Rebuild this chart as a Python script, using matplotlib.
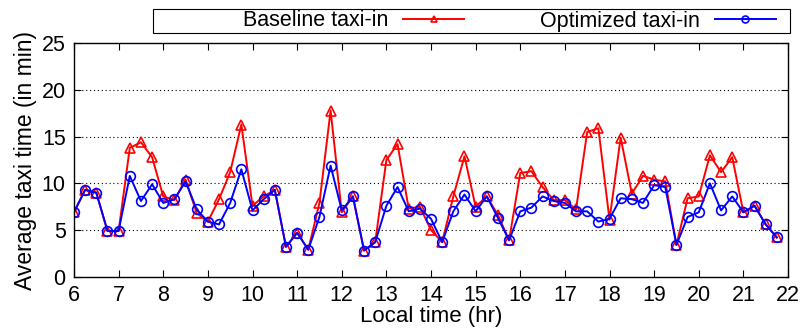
import numpy as np
import matplotlib
matplotlib.use("Agg")
import matplotlib.pyplot as plt
from matplotlib.ticker import MultipleLocator
from matplotlib.patches import Rectangle

plt.rcParams['font.family'] = ['Liberation Sans', 'DejaVu Sans']

# Local time of day (hours), sampled every 15 minutes
local_time = [6 + 0.25 * i for i in range(64)]

baseline_taxi_in = [
    6.9, 9.3, 9.0, 4.9, 4.9, 13.8, 14.4, 12.8, 8.6, 8.2,
    10.4, 6.8, 5.9, 8.3, 11.2, 16.3, 7.6, 8.6, 9.3, 3.2,
    4.7, 2.9, 7.9, 17.8, 6.9, 8.6, 2.8, 3.7, 12.5, 14.2,
    7.3, 7.5, 5.0, 3.7, 8.6, 12.9, 7.5, 8.6, 6.6, 3.9,
    11.1, 11.3, 9.6, 8.2, 8.2, 7.2, 15.5, 15.9, 6.1, 14.9,
    8.9, 10.8, 10.4, 10.2, 3.4, 8.4, 8.6, 13.0, 11.2, 12.8,
    6.9, 7.6, 5.6, 4.2,
]

optimized_taxi_in = [
    6.9, 9.3, 9.0, 4.9, 4.9, 10.8, 8.1, 9.9, 7.9, 8.3,
    10.2, 7.2, 5.9, 5.6, 7.9, 11.5, 7.1, 8.3, 9.3, 3.2,
    4.7, 2.9, 6.4, 11.9, 7.1, 8.6, 2.8, 3.7, 7.6, 9.6,
    7.0, 7.3, 6.2, 3.7, 7.0, 8.8, 7.0, 8.6, 6.3, 3.9,
    7.0, 7.4, 8.6, 8.1, 7.9, 7.0, 7.0, 5.9, 6.2, 8.4,
    8.3, 7.9, 9.8, 9.6, 3.4, 6.4, 6.9, 10.0, 7.1, 8.6,
    6.9, 7.6, 5.6, 4.2,
]

W, H = 806, 329
fig = plt.figure(figsize=(W / 100, H / 100), dpi=100)
ax = fig.add_axes([74 / W, 1 - 276.7 / H, 714 / W, 233.4 / H])

line_base, = ax.plot(local_time, baseline_taxi_in, color='red', lw=1.4,
                     marker='^', markersize=7, markerfacecolor='none',
                     markeredgecolor='red', markeredgewidth=1.2,
                     label='Baseline taxi-in')
line_opt, = ax.plot(local_time, optimized_taxi_in, color='blue', lw=1.4,
                    marker='o', markersize=7, markerfacecolor='none',
                    markeredgecolor='blue', markeredgewidth=1.2,
                    label='Optimized taxi-in')

ax.set_xlim(6, 22)
ax.set_ylim(0, 25)
ax.xaxis.set_major_locator(MultipleLocator(1))
ax.yaxis.set_major_locator(MultipleLocator(5))
ax.tick_params(direction='in', top=True, right=True, length=5,
               labelsize=15.5, width=0.8, pad=6)
for s in ax.spines.values():
    s.set_linewidth(1.0)

for yv in [5, 10, 15, 20]:
    ax.axhline(yv, color='black', lw=0.8, ls=(0, (1, 2.5)), zorder=0)

ax.set_xlabel('Local time (hr)', fontsize=16, labelpad=0)
ax.set_ylabel('Average taxi time (in min)', fontsize=16.5, labelpad=3)

# Key above the plot: frameless legend plus a plain outline box
leg = fig.legend(handles=[line_base, line_opt], loc='center right',
                 bbox_to_anchor=(776 / W, 1 - 21 / H),
                 bbox_transform=fig.transFigure,
                 ncol=2, markerfirst=False, frameon=False,
                 fontsize=15.5, handlelength=2.85, columnspacing=3.5,
                 borderpad=0, handletextpad=0.7, borderaxespad=0)
for h in leg.legend_handles:
    h.set_markersize(5)
fig.add_artist(Rectangle((153 / W, 1 - 32.5 / H), 637 / W, 23 / H,
                         transform=fig.transFigure, fill=False,
                         edgecolor='black', linewidth=0.8))

fig.savefig('out.png', dpi=100)
